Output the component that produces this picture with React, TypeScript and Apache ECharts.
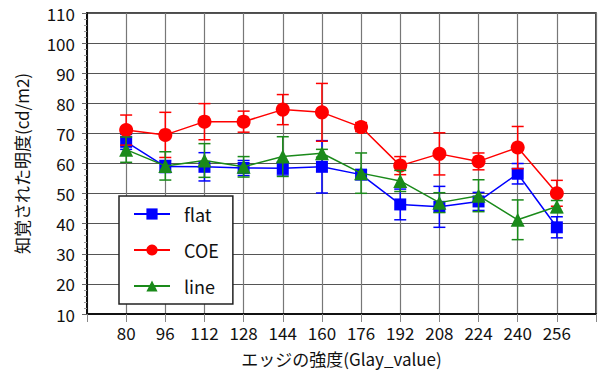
import React, { useEffect, useRef } from "react";
import * as echarts from "echarts";

const categories = [80, 96, 112, 128, 144, 160, 176, 192, 208, 224, 240, 256];
const flatValues = [67.2, 59.0, 58.9, 58.5, 58.4, 58.9, 56.3, 46.4, 45.6, 47.4, 56.6, 38.8];
const flatErrors = [2.5, 2.0, 4.7, 2.5, 2.2, 8.7, 1.5, 5.1, 6.8, 3.0, 3.4, 3.5];
const coeValues = [71.1, 69.5, 73.9, 73.9, 77.9, 77.0, 72.1, 59.3, 63.2, 60.7, 65.3, 50.1];
const coeErrors = [5.0, 7.5, 6.0, 3.5, 5.0, 9.6, 1.5, 3.0, 7.0, 2.8, 7.0, 4.3];
const lineValues = [64.6, 59.2, 61.0, 58.9, 62.3, 63.4, 56.8, 54.2, 47.0, 49.3, 41.3, 45.7];
const lineErrors = [4.2, 4.7, 5.6, 3.4, 6.6, 1.3, 6.7, 3.5, 3.3, 5.3, 6.6, 2.0];
const yTicks = { min: 10, max: 110, interval: 10 };
const xTicks = { min: 64, max: 272, interval: 16 };

const FONT = "'Noto Sans CJK JP', 'Noto Sans', sans-serif";

function errRenderer(color: string) {
  return (params: any, api: any) => {
    const x = api.value(0);
    const y = api.value(1);
    const e = api.value(2);
    const top = api.coord([x, y + e]);
    const bot = api.coord([x, y - e]);
    const hw = 6;
    const style = { stroke: color, lineWidth: 1.5 };
    return {
      type: "group",
      children: [
        { type: "line", shape: { x1: top[0], y1: top[1], x2: bot[0], y2: bot[1] }, style },
        { type: "line", shape: { x1: top[0] - hw, y1: top[1], x2: top[0] + hw, y2: top[1] }, style },
        { type: "line", shape: { x1: bot[0] - hw, y1: bot[1], x2: bot[0] + hw, y2: bot[1] }, style },
      ],
    };
  };
}

function makeSeries(name: string, vals: number[], errs: number[], color: string, symbol: string, size: number, z: number) {
  return [
    {
      type: "custom",
      name: name + "_err",
      renderItem: errRenderer(color),
      data: categories.map((c, i) => [c, vals[i], errs[i]]),
      encode: { x: 0, y: 1 },
      z: z,
      silent: true,
    },
    {
      type: "line",
      name,
      data: categories.map((c, i) => [c, vals[i]]),
      symbol,
      symbolSize: size,
      lineStyle: { color, width: 1.5 },
      itemStyle: { color },
      z: z + 1,
    },
  ];
}

export default function App() {
  const ref = useRef<HTMLDivElement>(null);
  useEffect(() => {
    if (!ref.current) return;
    const chart = echarts.init(ref.current, undefined, { renderer: "svg" });
    chart.setOption({
      animation: false,
      backgroundColor: "#fff",
      textStyle: { fontFamily: FONT },
      grid: {
        left: 87,
        right: 9,
        top: 13,
        bottom: 63,
        show: true,
        borderColor: "#111",
        borderWidth: 1.5,
        backgroundColor: "transparent",
      },
      legend: {
        orient: "vertical",
        left: 119,
        top: 196,
        data: ["flat", "COE", "line"],
        backgroundColor: "#fff",
        borderColor: "#222",
        borderWidth: 1.5,
        borderRadius: 0,
        padding: [9, 14, 9, 14],
        itemWidth: 36,
        itemHeight: 14,
        itemGap: 18,
        textStyle: { fontSize: 18, color: "#111", fontFamily: FONT, padding: [0, 0, 0, 9] },
      },
      xAxis: {
        type: "value",
        min: xTicks.min,
        max: xTicks.max,
        interval: xTicks.interval,
        name: "エッジの強度(Glay_value)",
        nameLocation: "middle",
        nameGap: 36,
        nameTextStyle: { fontSize: 17, color: "#111", fontFamily: FONT },
        axisLine: { lineStyle: { color: "#111", width: 2 } },
        axisTick: { show: true, length: 8, lineStyle: { color: "#888" } },
        axisLabel: {
          fontSize: 17,
          color: "#111",
          margin: 10,
          fontFamily: FONT,
          formatter: (v: number) => (categories.indexOf(v) >= 0 ? String(v) : ""),
        },
        splitLine: { show: true, lineStyle: { color: "#777", width: 1.2 } },
      },
      yAxis: {
        type: "value",
        min: yTicks.min,
        max: yTicks.max,
        interval: yTicks.interval,
        name: "知覚された明度(cd/m2)",
        nameLocation: "middle",
        nameGap: 57,
        nameTextStyle: { fontSize: 17, color: "#111", fontFamily: FONT },
        axisLine: { show: true, lineStyle: { color: "#111", width: 2 } },
        axisTick: { show: true, length: 5, lineStyle: { color: "#666" } },
        minorTick: { show: true, splitNumber: 5, length: 3, lineStyle: { color: "#999" } },
        axisLabel: { fontSize: 17, color: "#111", margin: 12, fontFamily: FONT },
        splitLine: { show: true, lineStyle: { color: "#555", width: 1.2 } },
      },
      series: [
        ...makeSeries("flat", flatValues, flatErrors, "#0000ff", "rect", 12, 2),
        ...makeSeries("COE", coeValues, coeErrors, "#ff0000", "circle", 14, 4),
        ...makeSeries("line", lineValues, lineErrors, "#1a8a1a", "triangle", 14, 6),
      ],
    });
    return () => chart.dispose();
  }, []);
  return <div ref={ref} style={{ width: 605, height: 377, position: "absolute", left: 0, top: 0 }} />;
}
